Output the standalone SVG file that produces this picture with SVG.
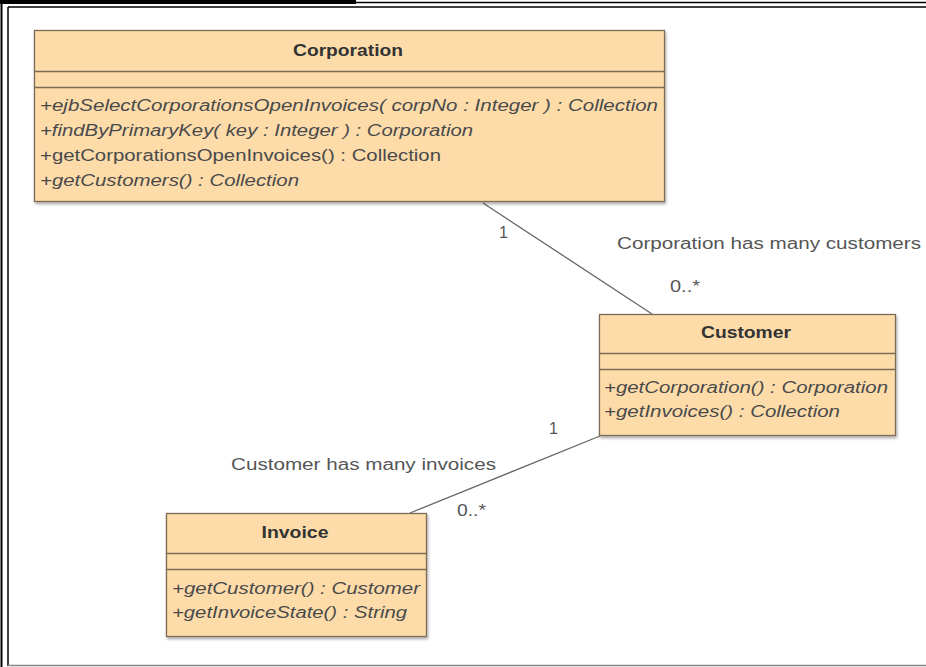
<svg xmlns="http://www.w3.org/2000/svg" width="926" height="667" viewBox="0 0 926 667">
<defs>
<filter id="sh" x="-5%" y="-5%" width="110%" height="115%">
<feGaussianBlur in="SourceAlpha" stdDeviation="1.5"/>
<feOffset dx="1" dy="2" result="b"/>
<feComponentTransfer><feFuncA type="linear" slope="0.35"/></feComponentTransfer>
<feMerge><feMergeNode/><feMergeNode in="SourceGraphic"/></feMerge>
</filter>
</defs>
<style>
.box{fill:#FDDCAA;stroke:#7d6c55;stroke-width:1.3}
.sep{stroke:#7d6c55;stroke-width:1.3}
.name{font-family:"Liberation Sans",Arial,sans-serif;font-size:16px;font-weight:bold;fill:#333;text-anchor:middle}
.m{font-family:"Liberation Sans",Arial,sans-serif;font-size:16px;fill:#4a4a4a}
.i{font-style:italic}
.lbl{font-family:"Liberation Sans",Arial,sans-serif;font-size:16px;fill:#555}
.conn{stroke:#666;stroke-width:1.3;fill:none}
</style>
<rect width="926" height="667" fill="#fff"/>
<!-- frame -->
<g id="frame">
<rect x="0" y="0" width="356" height="4" fill="#000"/>
<line x1="356" y1="2.5" x2="926" y2="2.5" stroke="#000" stroke-width="1.5"/>
<line x1="8" y1="7" x2="926" y2="7" stroke="#000" stroke-width="1.5"/>
<line x1="1.5" y1="0" x2="1.5" y2="667" stroke="#000" stroke-width="2"/>
<line x1="8" y1="7" x2="8" y2="666" stroke="#000" stroke-width="1.5"/>
<line x1="8" y1="665.5" x2="926" y2="665.5" stroke="#888" stroke-width="1.5"/>
</g>
<g id="connectors">
<line class="conn" x1="483" y1="203" x2="652" y2="314"/>
<line class="conn" x1="600" y1="436" x2="410" y2="513"/>
<text class="lbl" x="499" y="238">1</text>
<text class="lbl" x="617" y="249" textLength="304" lengthAdjust="spacingAndGlyphs">Corporation has many customers</text>
<text class="lbl" x="670" y="292" textLength="30" lengthAdjust="spacingAndGlyphs">0..*</text>
<text class="lbl" x="549" y="434">1</text>
<text class="lbl" x="231" y="470" textLength="265" lengthAdjust="spacingAndGlyphs">Customer has many invoices</text>
<text class="lbl" x="457" y="516" textLength="29" lengthAdjust="spacingAndGlyphs">0..*</text>
</g>
<g id="Corporation">
<rect class="box" x="34.5" y="30.5" width="630" height="171" filter="url(#sh)"/>
<line class="sep" x1="34.5" y1="71.5" x2="664.5" y2="71.5"/>
<line class="sep" x1="34.5" y1="87.5" x2="664.5" y2="87.5"/>
<text class="name" x="348" y="56" textLength="110" lengthAdjust="spacingAndGlyphs">Corporation</text>
<text class="m i" x="40" y="111" textLength="618" lengthAdjust="spacingAndGlyphs">+ejbSelectCorporationsOpenInvoices( corpNo : Integer ) : Collection</text>
<text class="m i" x="40" y="136" textLength="433" lengthAdjust="spacingAndGlyphs">+findByPrimaryKey( key : Integer ) : Corporation</text>
<text class="m" x="40" y="161" textLength="401" lengthAdjust="spacingAndGlyphs">+getCorporationsOpenInvoices() : Collection</text>
<text class="m i" x="40" y="186" textLength="259" lengthAdjust="spacingAndGlyphs">+getCustomers() : Collection</text>
</g>
<g id="Customer">
<rect class="box" x="599.5" y="314.5" width="296" height="121" filter="url(#sh)"/>
<line class="sep" x1="599.5" y1="353.5" x2="895.5" y2="353.5"/>
<line class="sep" x1="599.5" y1="369.5" x2="895.5" y2="369.5"/>
<text class="name" x="746" y="338" textLength="90" lengthAdjust="spacingAndGlyphs">Customer</text>
<text class="m i" x="604" y="393" textLength="284" lengthAdjust="spacingAndGlyphs">+getCorporation() : Corporation</text>
<text class="m i" x="604" y="417" textLength="236" lengthAdjust="spacingAndGlyphs">+getInvoices() : Collection</text>
</g>
<g id="Invoice">
<rect class="box" x="166.5" y="513.5" width="260" height="123" filter="url(#sh)"/>
<line class="sep" x1="166.5" y1="553.5" x2="426.5" y2="553.5"/>
<line class="sep" x1="166.5" y1="569.5" x2="426.5" y2="569.5"/>
<text class="name" x="295" y="538" textLength="67" lengthAdjust="spacingAndGlyphs">Invoice</text>
<text class="m i" x="172" y="594" textLength="248" lengthAdjust="spacingAndGlyphs">+getCustomer() : Customer</text>
<text class="m i" x="172" y="618" textLength="235" lengthAdjust="spacingAndGlyphs">+getInvoiceState() : String</text>
</g>
</svg>
